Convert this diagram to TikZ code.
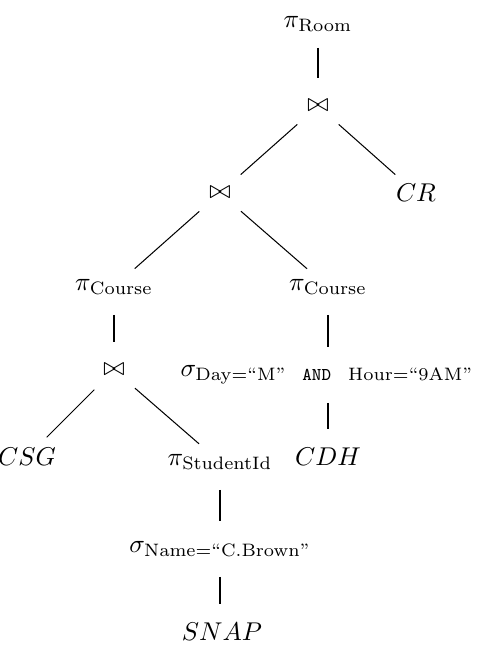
\documentclass[tikz,border=0pt]{standalone}
\usepackage{amsmath}
\begin{document}
\begin{tikzpicture}[x=0.389pt,y=-0.389pt,
  lbl/.style={inner sep=0pt,anchor=center},
  edge/.style={draw=black,line width=0.4pt,shorten <=10.8pt,shorten >=10.8pt}]
\useasboundingbox (0,0) rectangle (479,645);
\node[lbl] (pr) at (318,24) {$\pi_{\mathrm{Room}}$};
\node[lbl] (j1) at (318,106) {$\bowtie$};
\node[lbl] (j2) at (220,193) {$\bowtie$};
\node[lbl] (cr) at (416,193) {$CR$};
\node[lbl] (pc1) at (114,287) {$\pi_{\mathrm{Course}}$};
\node[lbl] (pc2) at (328,287) {$\pi_{\mathrm{Course}}$};
\node[lbl] (j3) at (114,370) {$\bowtie$};
\node[lbl] (sd) at (327,375) {$\sigma_{\mathrm{Day}=\text{``M''}\ \ \texttt{AND}\ \ \mathrm{Hour}=\text{``9AM''}}$};
\node[lbl] (csg) at (27,457) {$CSG$};
\node[lbl] (ps) at (220,462) {$\pi_{\mathrm{StudentId}}$};
\node[lbl] (cdh) at (328,457) {$CDH$};
\node[lbl] (sn) at (220,549) {$\sigma_{\mathrm{Name}=\text{``C.Brown''}}$};
\node[lbl] (snap) at (222,632) {$SNAP$};
\path[edge,shorten <=9.3pt] (pr.center) -- (j1.center);
\path[edge] (j1.center) -- (j2.center);
\path[edge] (j1.center) -- (cr.center);
\path[edge] (j2.center) -- (pc1.center);
\path[edge] (j2.center) -- (pc2.center);
\path[edge] (pc1.center) -- (j3.center);
\path[edge] (pc2.center) -- (pc2.center |- sd.center);
\path[edge] (j3.center) -- (csg.center);
\path[edge] (j3.center) -- (ps.center);
\path[edge] (pc2.center |- sd.center) -- (cdh.center);
\path[edge] (ps.center) -- (sn.center);
\path[edge] (sn.center) -- (sn.center |- snap.center);
\end{tikzpicture}
\end{document}
